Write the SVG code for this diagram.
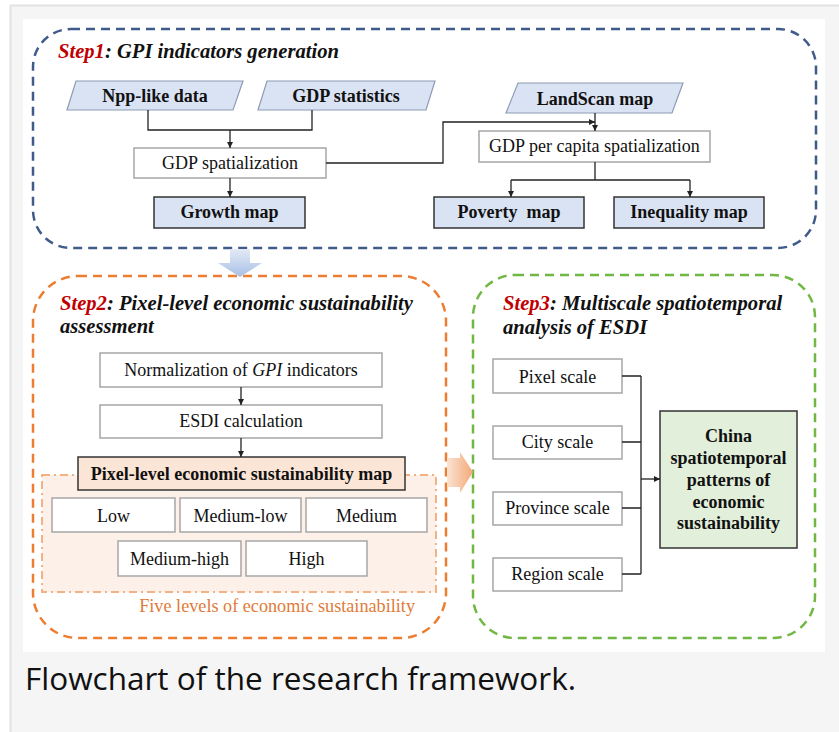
<svg xmlns="http://www.w3.org/2000/svg" width="839" height="732" viewBox="0 0 839 732">
<defs>
<marker id="ah" markerUnits="userSpaceOnUse" markerWidth="6" markerHeight="6" refX="6" refY="3" orient="auto"><path d="M0,0 L6,3 L0,6 Z" fill="#222"/></marker>
<linearGradient id="gBlue" x1="0" y1="0" x2="0" y2="1"><stop offset="0" stop-color="#e3eaf6"/><stop offset="1" stop-color="#a9bfe6"/></linearGradient>
<linearGradient id="gOr" x1="0" y1="0" x2="1" y2="0"><stop offset="0" stop-color="#fbe3d2"/><stop offset="1" stop-color="#f2a978"/></linearGradient>
<style>
.t{font-family:"Liberation Serif","Times New Roman",serif;font-size:18px;fill:#111;text-anchor:middle}
.b{font-weight:bold}
.title{font-family:"Liberation Serif","Times New Roman",serif;font-size:20.6px;font-weight:bold;font-style:italic;fill:#111}
.red{fill:#c00000}
.para{fill:#dae3f3;stroke:#8c9cb4;stroke-width:1.2}
.map{fill:#dae3f3;stroke:#333;stroke-width:1.5}
.box{fill:#fff;stroke:#a6a6a6;stroke-width:1.5}
.ln{fill:none;stroke:#222;stroke-width:1.3}
.ar{fill:none;stroke:#222;stroke-width:1.3;marker-end:url(#ah)}
</style>
</defs>
<rect x="0" y="0" width="839" height="732" fill="#fff"/>
<rect x="10.5" y="5.5" width="840" height="740" fill="#f5f5f5" stroke="#e2e2e2" stroke-width="2"/>
<rect x="23" y="19" width="802" height="633" fill="#fff"/>

<!-- step containers -->
<g id="step1">
<rect x="33" y="29" width="783" height="219" rx="38" fill="none" stroke="#3f5b8a" stroke-width="2.5" stroke-dasharray="9 6"/>
<text class="title" x="58" y="58"><tspan class="red">Step1</tspan>: GPI indicators generation</text>
</g>
<g id="step2">
<rect x="33" y="276" width="413" height="362" rx="45" fill="none" stroke="#ed7d31" stroke-width="2.5" stroke-dasharray="9 6"/>
<text class="title" x="60" y="310"><tspan class="red">Step2</tspan>: Pixel-level economic sustainability</text>
<text class="title" x="60" y="333">assessment</text>
</g>
<g id="step3">
<rect x="473" y="275" width="342" height="363" rx="42" fill="none" stroke="#70b843" stroke-width="2.5" stroke-dasharray="9 6"/>
<text class="title" x="503" y="310"><tspan class="red">Step3</tspan>: Multiscale spatiotemporal</text>
<text class="title" x="503" y="334">analysis of ESDI</text>
</g>

<!-- big arrows -->
<g id="arrowDown"><polygon points="230,249 250,249 250,263 262,263 240,277 218,263 230,263" fill="url(#gBlue)"/></g>
<g id="arrowRight"><polygon points="447,458 460,458 460,452 473,472 460,493 460,487 447,487" fill="url(#gOr)"/></g>

<!-- step1 nodes -->
<g id="npp"><polygon class="para" points="76,81 243,81 233,110 67,110"/><text class="t b" x="155" y="102">Npp-like data</text></g>
<g id="gdpstat"><polygon class="para" points="267,81 435,81 426,110 258,110"/><text class="t b" x="346" y="102">GDP statistics</text></g>
<g id="gdpspat"><rect class="box" x="134" y="148" width="192" height="30"/><text class="t" x="230" y="169">GDP spatialization</text></g>
<g id="growth"><rect class="map" x="154" y="197" width="151" height="31"/><text class="t b" x="229.5" y="218">Growth map</text></g>
<g id="landscan"><polygon class="para" points="518,83 683,83 672,113 506,113"/><text class="t b" x="595" y="105">LandScan map</text></g>
<g id="gdppc"><rect class="box" x="479" y="131" width="231" height="31"/><text class="t" x="594.5" y="152">GDP per capita spatialization</text></g>
<g id="poverty"><rect class="map" x="434" y="197" width="150" height="31"/><text class="t b" x="509" y="218" xml:space="preserve">Poverty  map</text></g>
<g id="inequality"><rect class="map" x="614" y="197" width="150" height="31"/><text class="t b" x="689" y="218">Inequality map</text></g>

<!-- step2 nodes -->
<g id="fivelevels">
<rect x="42" y="475" width="394" height="117" fill="#fdf0e8" stroke="#f4b183" stroke-width="2" stroke-dasharray="8 4 2 4"/>
<text x="415" y="612" style="font-family:'Liberation Serif','Times New Roman',serif;font-size:18.2px;fill:#e07b39;text-anchor:end">Five levels of economic sustainability</text>
</g>
<g id="norm"><rect class="box" x="100" y="353" width="282" height="34"/><text class="t" x="241" y="376">Normalization of <tspan font-style="italic">GPI</tspan> indicators</text></g>
<g id="esdi"><rect class="box" x="100" y="405" width="282" height="33"/><text class="t" x="241" y="427">ESDI calculation</text></g>
<g id="pixmap"><rect x="78" y="457" width="327" height="33" fill="#fbe5d6" stroke="#333" stroke-width="1.5"/><text class="t b" x="241.5" y="480">Pixel-level economic sustainability map</text></g>
<g id="low"><rect class="box" x="52" y="498" width="123" height="34"/><text class="t" x="113.5" y="522">Low</text></g>
<g id="medlow"><rect class="box" x="180" y="498" width="121" height="34"/><text class="t" x="240.5" y="522">Medium-low</text></g>
<g id="medium"><rect class="box" x="306" y="498" width="121" height="34"/><text class="t" x="366.5" y="522">Medium</text></g>
<g id="medhigh"><rect class="box" x="118" y="541" width="123" height="35"/><text class="t" x="179.5" y="565">Medium-high</text></g>
<g id="high"><rect class="box" x="246" y="541" width="121" height="35"/><text class="t" x="306.5" y="565">High</text></g>

<!-- step3 nodes -->
<g id="pixel"><rect class="box" x="493" y="359" width="129" height="34"/><text class="t" x="557.5" y="383">Pixel scale</text></g>
<g id="city"><rect class="box" x="493" y="426" width="129" height="33"/><text class="t" x="557.5" y="448">City scale</text></g>
<g id="province"><rect class="box" x="493" y="492" width="129" height="33"/><text class="t" x="557.5" y="514">Province scale</text></g>
<g id="region"><rect class="box" x="493" y="558" width="129" height="33"/><text class="t" x="557.5" y="580">Region scale</text></g>
<g id="china"><rect x="660" y="411" width="137" height="137" fill="#e2efda" stroke="#333" stroke-width="1.5"/>
<text class="t b" x="728.5" y="442">China</text>
<text class="t b" x="728.5" y="464">spatiotemporal</text>
<text class="t b" x="728.5" y="486">patterns of</text>
<text class="t b" x="728.5" y="508">economic</text>
<text class="t b" x="728.5" y="529">sustainability</text>
</g>

<!-- connectors -->
<g id="connectors">
<path class="ln" d="M148,110 V130 H312 V110"/>
<path class="ar" d="M230,130 V148"/>
<path class="ar" d="M230,178 V197"/>
<path class="ar" d="M326,163 H443 V122 H595"/>
<path class="ar" d="M595,113 V131"/>
<path class="ln" d="M595,162 V180"/>
<path class="ar" d="M511,180 V197"/>
<path class="ar" d="M690,180 V197"/>
<path class="ln" d="M511,180 H690"/>
<path class="ar" d="M241,387 V405"/>
<path class="ar" d="M241,438 V457"/>
<path class="ln" d="M622,376 H641 M622,442 H641 M622,508 H641 M622,574 H641 M641,376 V574"/>
<path class="ar" d="M641,479 H660"/>
</g>

<text x="25" y="690" style="font-family:'Open Sans',sans-serif;font-size:31.5px;fill:#111">Flowchart of the research framework.</text>
</svg>
